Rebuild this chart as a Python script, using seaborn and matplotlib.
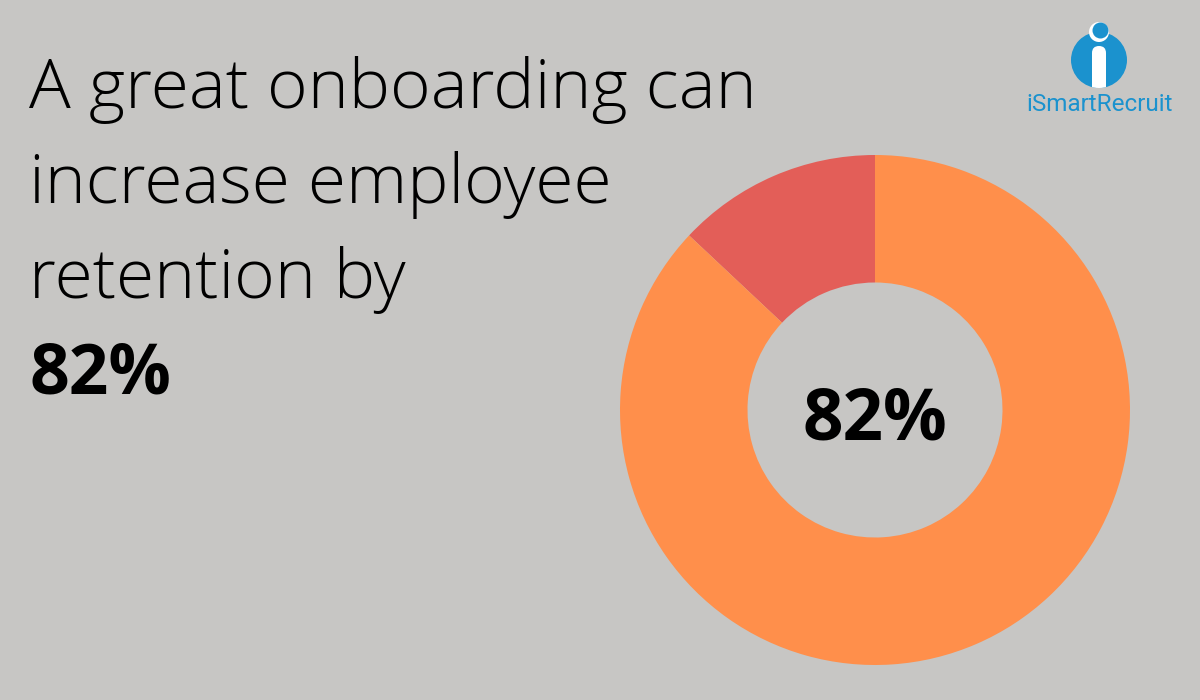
import matplotlib.pyplot as plt
import seaborn as sns
from matplotlib.patches import Circle, FancyBboxPatch

# data (slices drawn counter-clockwise from 12 o'clock)
slice_labels = ["rest", "retention"]
slice_values = [13, 87]
slice_colors = ["#E35E58", "#FF8F4B"]
headline_lines = ["A great onboarding can", "increase employee", "retention by"]
headline_value = "82%"
center_label = "82%"
brand_name = "iSmartRecruit"

BG = "#C7C6C4"
BLUE = "#1B92CE"

sns.set_theme(style="white")
plt.rcParams["font.family"] = ["Open Sans", "DejaVu Sans"]

W, H = 1200, 700
fig = plt.figure(figsize=(12, 7), dpi=100, facecolor=BG)


def fx(x):
    return x / W


def fy(y):
    return 1 - y / H


# headline text
for i, line in enumerate(headline_lines):
    fig.text(fx(29), fy(108 + i * 95), line, fontsize=50, fontweight="light",
             color="#000000", va="baseline", ha="left")
fig.text(fx(29), fy(394), headline_value, fontsize=50, fontweight="bold",
         color="#000000", va="baseline", ha="left")

# donut
cx, cy, r = 875, 410, 255
ax = fig.add_axes([fx(cx - r), fy(cy + r), 2 * r / W, 2 * r / H])
ax.set_facecolor(BG)
ax.pie(slice_values, colors=slice_colors, startangle=90, counterclock=True,
       radius=1, wedgeprops=dict(width=0.5, linewidth=0))
ax.set_xlim(-1, 1)
ax.set_ylim(-1, 1)
ax.set_aspect("equal")
ax.axis("off")
ax.text(0, -0.04, center_label, fontsize=51, fontweight="bold", color="#000000",
        ha="center", va="center")

# logo
lax = fig.add_axes([0, 0, 1, 1], facecolor="none")
lax.set_xlim(0, W)
lax.set_ylim(H, 0)
lax.axis("off")
disc = Circle((1099, 60), 28, color=BLUE, lw=0)
lax.add_patch(disc)
stem = FancyBboxPatch((1092, 46), 14, 50, boxstyle="round,pad=0,rounding_size=7",
                      color="white", lw=0)
lax.add_patch(stem)
stem.set_clip_path(disc)
lax.add_patch(Circle((1099, 32), 10, color="white", lw=0))
lax.add_patch(Circle((1100.5, 30.5), 8, color=BLUE, lw=0))
lax.text(1100, 111, brand_name, fontsize=17.5, color=BLUE, ha="center", va="baseline",
         family=["Roboto", "DejaVu Sans"])

fig.savefig("out.png", dpi=100, facecolor=BG)
